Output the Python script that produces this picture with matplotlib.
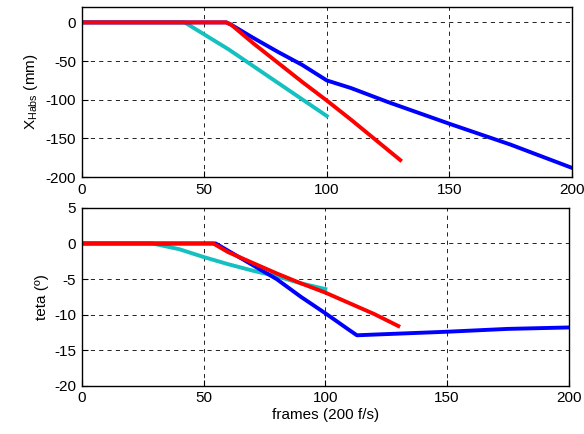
import matplotlib
matplotlib.use('Agg')
import matplotlib.pyplot as plt

plt.rcParams['font.family'] = ['Liberation Sans', 'DejaVu Sans']
plt.rcParams['font.size'] = 11
plt.rcParams['axes.unicode_minus'] = False

# top panel: X_Habs (mm) vs frames
x_top_cyan = [0, 42, 60, 80, 100]
y_top_cyan = [0, 0, -35, -78, -121]
x_top_blue = [0, 59, 61, 70, 80, 90, 100, 110, 125, 150, 175, 200]
y_top_blue = [0, 0, -3, -20, -38, -55, -75, -85, -103, -131, -158, -188]
x_top_red = [0, 59, 61, 70, 80, 90, 100, 110, 120, 130]
y_top_red = [0, 0, -3, -27, -52, -77, -101, -126, -152, -178]

# bottom panel: teta vs frames
x_bot_cyan = [0, 29, 40, 50, 60, 70, 80, 90, 100]
y_bot_cyan = [0, 0, -0.8, -1.9, -2.9, -3.8, -4.6, -5.6, -6.4]
x_bot_blue = [0, 55, 60, 70, 80, 90, 100, 110, 113, 120, 150, 175, 200]
y_bot_blue = [0, 0, -1.0, -3.0, -5.0, -7.5, -9.8, -12.2, -12.9, -12.8, -12.4, -12.0, -11.8]
x_bot_red = [0, 54, 60, 70, 80, 90, 100, 110, 120, 130]
y_bot_red = [0, 0, -1.2, -2.7, -4.2, -5.6, -6.9, -8.4, -9.9, -11.6]

fig = plt.figure(figsize=(5.84, 4.34), dpi=100)
ax1 = fig.add_axes([0.140, 0.592, 0.839, 0.392])
ax2 = fig.add_axes([0.140, 0.111, 0.834, 0.410])

lw = 2.8
ax1.plot(x_top_cyan, y_top_cyan, color='#14c0c0', lw=lw)
ax1.plot(x_top_blue, y_top_blue, color='#0000ff', lw=lw)
ax1.plot(x_top_red, y_top_red, color='#ff0000', lw=lw)
ax1.set_xlim(0, 200)
ax1.set_ylim(-200, 20)
ax1.set_yticks([0, -50, -100, -150, -200])
ax1.set_xticks([0, 50, 100, 150, 200])
ax1.set_ylabel(r'X$_{\mathregular{Habs}}$ (mm)')

ax2.plot(x_bot_cyan, y_bot_cyan, color='#14c0c0', lw=lw)
ax2.plot(x_bot_blue, y_bot_blue, color='#0000ff', lw=lw)
ax2.plot(x_bot_red, y_bot_red, color='#ff0000', lw=lw)
ax2.set_xlim(0, 200)
ax2.set_ylim(-20, 5)
ax2.set_yticks([5, 0, -5, -10, -15, -20])
ax2.set_xticks([0, 50, 100, 150, 200])
ax2.set_ylabel('teta (º)')
ax2.set_xlabel('frames (200 f/s)', labelpad=2)

for ax in (ax1, ax2):
    ax.grid(True, color='black', linestyle=(0, (5, 5)), linewidth=0.6)
    ax.tick_params(direction='in', length=4, width=0.8, pad=4, labelsize=11)
    for s in ax.spines.values():
        s.set_linewidth(1.0)

fig.savefig('out.png', dpi=100)
